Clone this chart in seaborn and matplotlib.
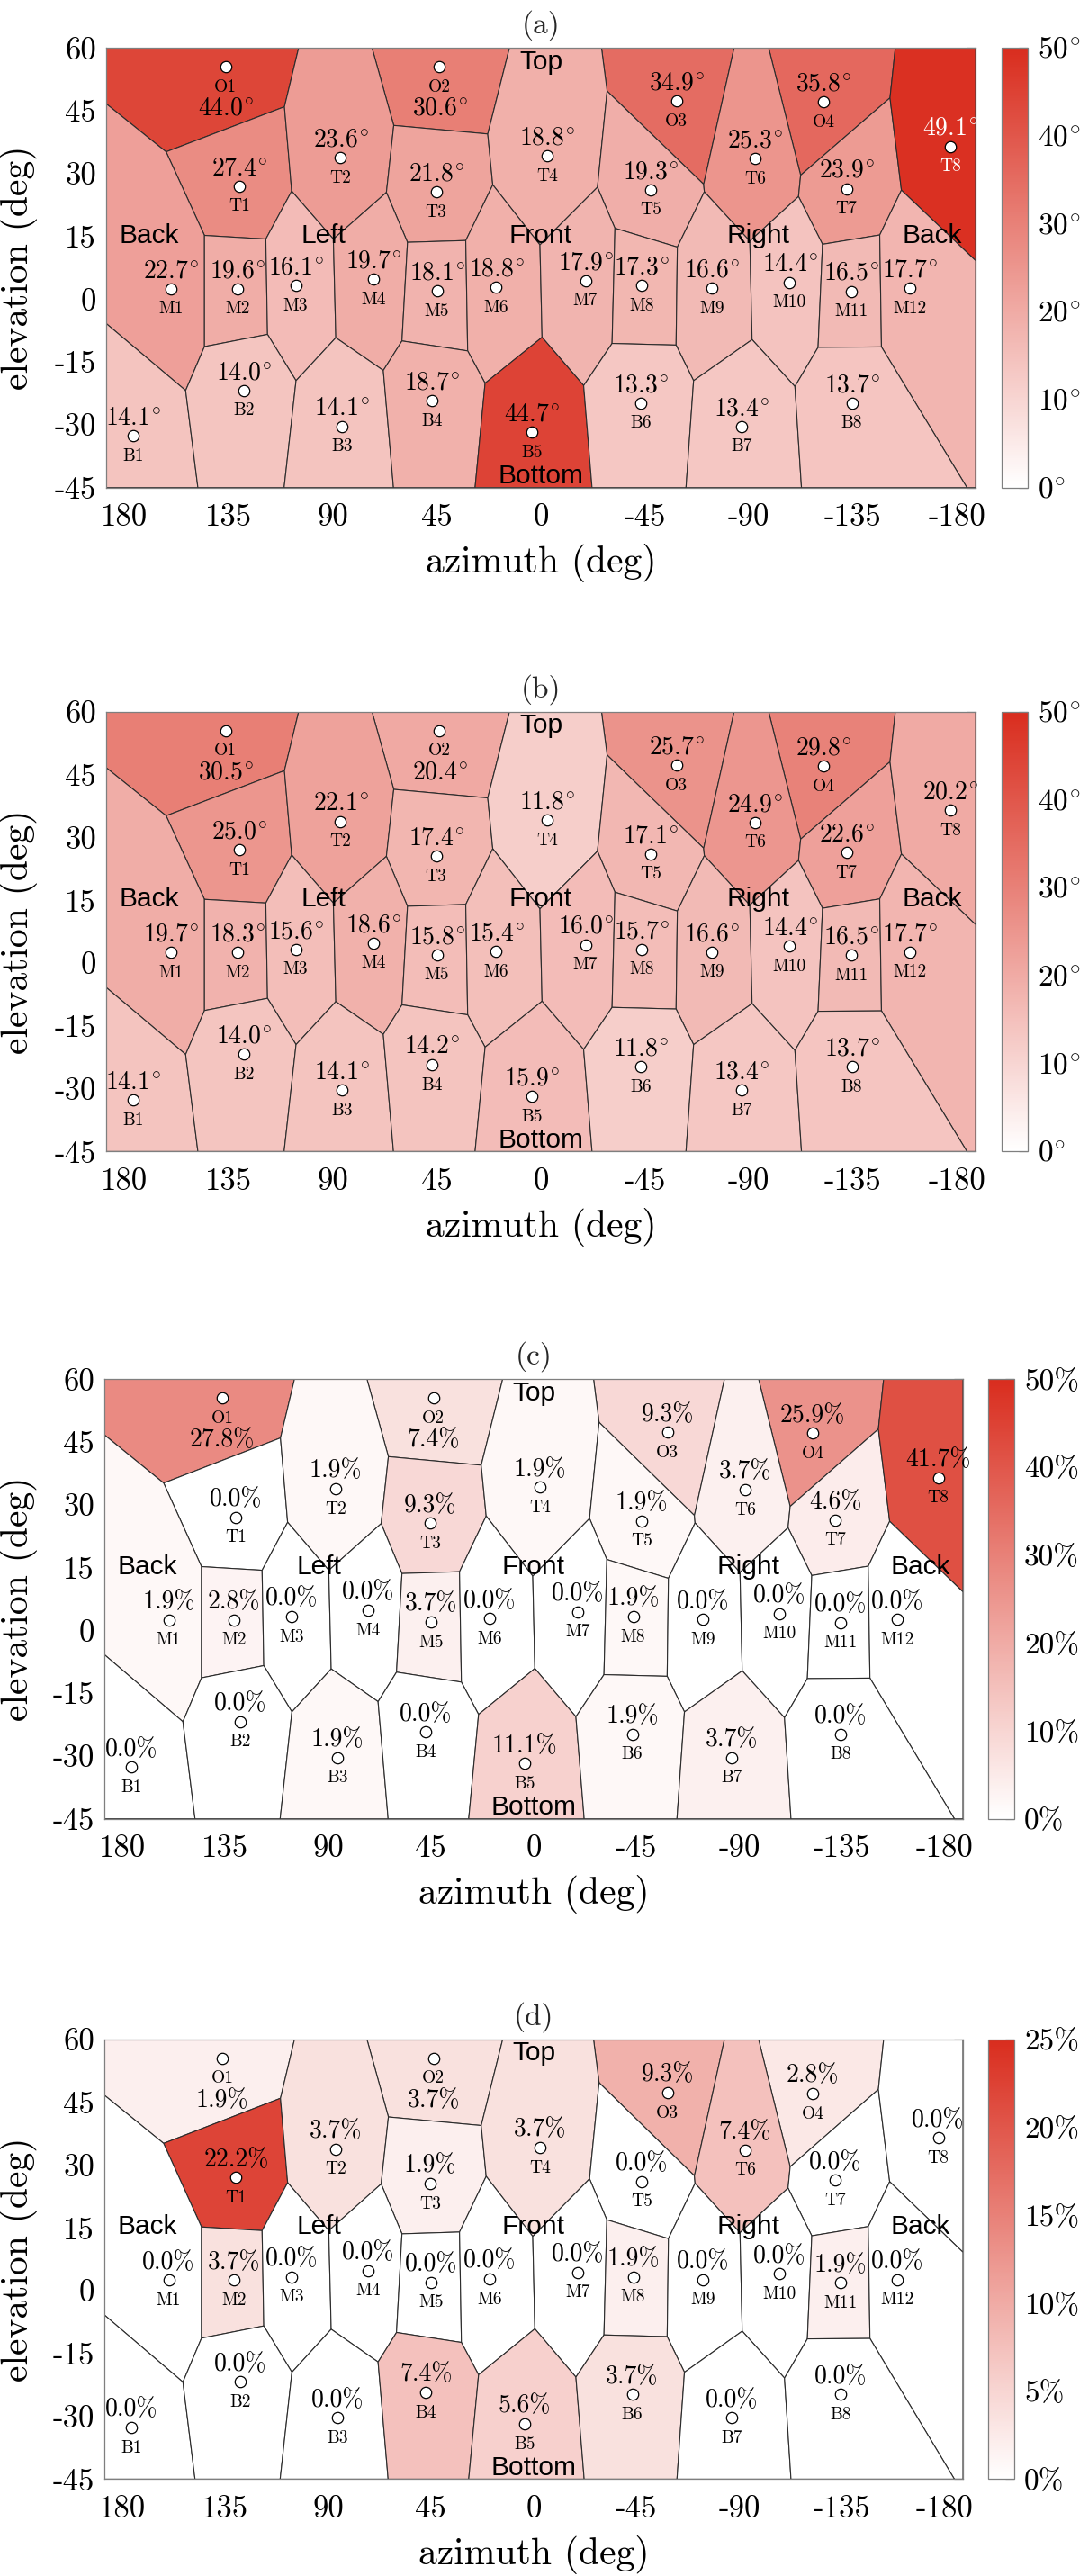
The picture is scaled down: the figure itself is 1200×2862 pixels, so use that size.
"""Voronoi maps of per-loudspeaker localisation error and confusion rates."""

import matplotlib

matplotlib.use("Agg")
import matplotlib.pyplot as plt
import numpy as np
import pandas as pd
import seaborn as sns
from matplotlib.collections import PolyCollection
from matplotlib.colors import LinearSegmentedColormap, Normalize


SPEAKERS = ["O1", "O2", "O3", "O4",
            "T1", "T2", "T3", "T4", "T5", "T6", "T7", "T8",
            "M1", "M2", "M3", "M4", "M5", "M6", "M7", "M8", "M9", "M10", "M11", "M12",
            "B1", "B2", "B3", "B4", "B5", "B6", "B7", "B8"]
AZIMUTH = [136.3, 43.8, -58.7, -122.3,
           130.3, 86.6, 45.3, -2.8, -47.4, -92.6, -132.2, -177.2,
           159.8, 131.1, 106.0, 72.5, 44.9, 19.3, -19.3, -43.6, -74.0, -107.6, -134.4, -159.4,
           176.2, 128.5, 85.9, 47.1, 3.9, -43.2, -86.8, -134.5]
ELEVATION = [55.5, 55.5, 47.3, 47.1,
             27.0, 33.8, 25.6, 34.2, 26.1, 33.6, 26.4, 36.5,
             2.5, 2.5, 3.3, 4.8, 2.0, 2.8, 4.4, 3.3, 2.6, 4.0, 1.9, 2.6,
             -32.7, -21.8, -30.4, -24.3, -31.8, -24.8, -30.4, -24.8]

VALUES_A = [44.0, 30.6, 34.9, 35.8,
            27.4, 23.6, 21.8, 18.8, 19.3, 25.3, 23.9, 49.1,
            22.7, 19.6, 16.1, 19.7, 18.1, 18.8, 17.9, 17.3, 16.6, 14.4, 16.5, 17.7,
            14.1, 14.0, 14.1, 18.7, 44.7, 13.3, 13.4, 13.7]
VALUES_B = [30.5, 20.4, 25.7, 29.8,
            25.0, 22.1, 17.4, 11.8, 17.1, 24.9, 22.6, 20.2,
            19.7, 18.3, 15.6, 18.6, 15.8, 15.4, 16.0, 15.7, 16.6, 14.4, 16.5, 17.7,
            14.1, 14.0, 14.1, 14.2, 15.9, 11.8, 13.4, 13.7]
VALUES_C = [27.8, 7.4, 9.3, 25.9,
            0.0, 1.9, 9.3, 1.9, 1.9, 3.7, 4.6, 41.7,
            1.9, 2.8, 0.0, 0.0, 3.7, 0.0, 0.0, 1.9, 0.0, 0.0, 0.0, 0.0,
            0.0, 0.0, 1.9, 0.0, 11.1, 1.9, 3.7, 0.0]
VALUES_D = [1.9, 3.7, 9.3, 2.8,
            22.2, 3.7, 1.9, 3.7, 0.0, 7.4, 0.0, 0.0,
            0.0, 3.7, 0.0, 0.0, 0.0, 0.0, 0.0, 1.9, 0.0, 0.0, 1.9, 0.0,
            0.0, 0.0, 0.0, 7.4, 5.6, 3.7, 0.0, 0.0]

PANEL_TITLES = ["(a)", "(b)", "(c)", "(d)"]
PANEL_UNITS = ["deg", "deg", "pct", "pct"]
PANEL_MAX = [50, 50, 50, 25]

REGION_NAMES = ["Top", "Bottom", "Back", "Left", "Front", "Right", "Back"]
REGION_AZ = [0, 0, 169.3, 94, 0, -94, -169.3]
REGION_EL = [59.7, -44.0, 13.5, 13.5, 13.5, 13.5, 13.5]

X_TICKS = [180, 135, 90, 45, 0, -45, -90, -135, -180]
Y_TICKS = [60, 45, 30, 15, 0, -15, -30, -45]
X_LIM = (188, -188)
Y_LIM = (-45, 60)

# pixel layout of each panel: axes top, axes left/right, colorbar left/right
W_PX, H_PX, AX_H_PX = 1200, 2862, 488.4
AX_TOP_PX = [53.3, 791.0, 1532.3, 2266.0]
AX_X_PX = [(117.9, 1084.1), (117.9, 1084.1), (116.0, 1070.0), (116.0, 1070.0)]
CB_X_PX = [(1113.4, 1141.9), (1113.4, 1141.9), (1098.0, 1127.0), (1098.0, 1127.0)]

EDGE_GRAY = "#7F7F7F"
CMAP = LinearSegmentedColormap.from_list("white_red", ["#FFFFFF", "#D92D1E"])


def clip_halfplane(poly, p, q):
    """Keep the part of poly that is closer to p than to q."""
    normal = q - p
    limit = (q @ q - p @ p) / 2.0
    out = []
    for i in range(len(poly)):
        a, b = poly[i], poly[(i + 1) % len(poly)]
        fa, fb = a @ normal - limit, b @ normal - limit
        if fa <= 0:
            out.append(a)
        if fa * fb < 0:
            out.append(a + fa / (fa - fb) * (b - a))
    return np.array(out)


def voronoi_cells(points):
    box = np.array([[X_LIM[1], Y_LIM[0]], [X_LIM[0], Y_LIM[0]],
                    [X_LIM[0], Y_LIM[1]], [X_LIM[1], Y_LIM[1]]], dtype=float)
    cells = []
    for i, p in enumerate(points):
        poly = box.copy()
        for j, q in enumerate(points):
            if i != j:
                poly = clip_halfplane(poly, p, q)
        cells.append(poly)
    return cells


def value_label(value, unit):
    return f"${value:.1f}^{{\\!\\circ}}$" if unit == "deg" else f"{value:.1f}%"


def tick_label(value, unit):
    return f"${value:g}^{{\\!\\circ}}$" if unit == "deg" else f"{value:g}%"


def draw_panel(fig, index, values):
    unit = PANEL_UNITS[index]
    vmax = PANEL_MAX[index]
    height = AX_H_PX / H_PX
    bottom = 1 - (AX_TOP_PX[index] + AX_H_PX) / H_PX
    x0, x1 = AX_X_PX[index]
    c0, c1 = CB_X_PX[index]
    ax = fig.add_axes([x0 / W_PX, bottom, (x1 - x0) / W_PX, height])
    cax = fig.add_axes([c0 / W_PX, bottom, (c1 - c0) / W_PX, height])

    data = pd.DataFrame({"speaker": SPEAKERS, "azimuth": AZIMUTH,
                         "elevation": ELEVATION, "value": values})
    points = data[["azimuth", "elevation"]].to_numpy(dtype=float)
    cells = voronoi_cells(points)

    norm = Normalize(vmin=0, vmax=vmax)
    pc = PolyCollection(cells, cmap=CMAP, norm=norm, edgecolors="#2B2B2B",
                        linewidths=0.8, zorder=1)
    pc.set_array(data["value"].to_numpy())
    ax.add_collection(pc)

    sns.scatterplot(data=data, x="azimuth", y="elevation", ax=ax, s=80,
                    color="white", edgecolor="black", linewidth=0.9,
                    zorder=3, legend=False)

    for _, row in data.iterrows():
        xy = (row["azimuth"], row["elevation"])
        color = "white" if row["value"] / vmax > 0.95 else "black"
        ax.annotate(row["speaker"], xy, xytext=(0, -19.8), textcoords="offset points",
                    ha="center", va="baseline", fontsize=14, color=color, zorder=4)
        offset = -38.7 if row["elevation"] > 52 else 9.1
        ax.annotate(value_label(row["value"], unit), xy, xytext=(0, offset),
                    textcoords="offset points", ha="center", va="baseline",
                    fontsize=20, color=color, zorder=4)

    for name, az, el in zip(REGION_NAMES, REGION_AZ, REGION_EL):
        ax.text(az, el, name, ha="center", va="top" if name == "Top" else "baseline",
                fontsize=21.5, family="Liberation Sans", color="black", zorder=5)

    ax.set_xlim(*X_LIM)
    ax.set_ylim(*Y_LIM)
    ax.set_xticks(X_TICKS)
    ax.set_xticklabels([str(t) for t in X_TICKS])
    ax.set_yticks(Y_TICKS)
    ax.set_yticklabels([str(t) for t in Y_TICKS])
    ax.tick_params(axis="both", direction="in", top=True, right=True, length=7,
                   width=0.9, color=EDGE_GRAY, labelsize=25)
    ax.tick_params(axis="x", pad=13)
    ax.tick_params(axis="y", pad=8)
    for spine in ax.spines.values():
        spine.set_edgecolor(EDGE_GRAY)
        spine.set_linewidth(0.9)

    ax.set_xlabel("azimuth (deg)", fontsize=30)
    ax.xaxis.set_label_coords(0.5, -0.128)
    ax.set_ylabel("elevation (deg)", fontsize=30)
    ax.yaxis.set_label_coords((42.0 - x0) / (x1 - x0), 0.5)
    ax.set_title(PANEL_TITLES[index], fontsize=24, pad=12)

    cb = fig.colorbar(pc, cax=cax)
    ticks = list(range(0, vmax + 1, 10 if vmax == 50 else 5))
    cb.set_ticks(ticks)
    cb.set_ticklabels([tick_label(t, unit) for t in ticks])
    cb.ax.tick_params(direction="in", length=7, width=0.9, color=EDGE_GRAY,
                      labelsize=24, pad=8)
    cb.outline.set_edgecolor(EDGE_GRAY)
    cb.outline.set_linewidth(0.9)


sns.set_theme(style="white")
plt.rcParams.update({
    "font.family": "serif",
    "font.serif": ["cmr10"],
    "mathtext.fontset": "cm",
    "axes.unicode_minus": False,
    "axes.labelcolor": "black",
    "xtick.color": "black",
    "ytick.color": "black",
})

fig = plt.figure(figsize=(12, 28.62), dpi=100)
for k, vals in enumerate([VALUES_A, VALUES_B, VALUES_C, VALUES_D]):
    draw_panel(fig, k, vals)
fig.savefig("out.png", dpi=100)
plt.close(fig)
